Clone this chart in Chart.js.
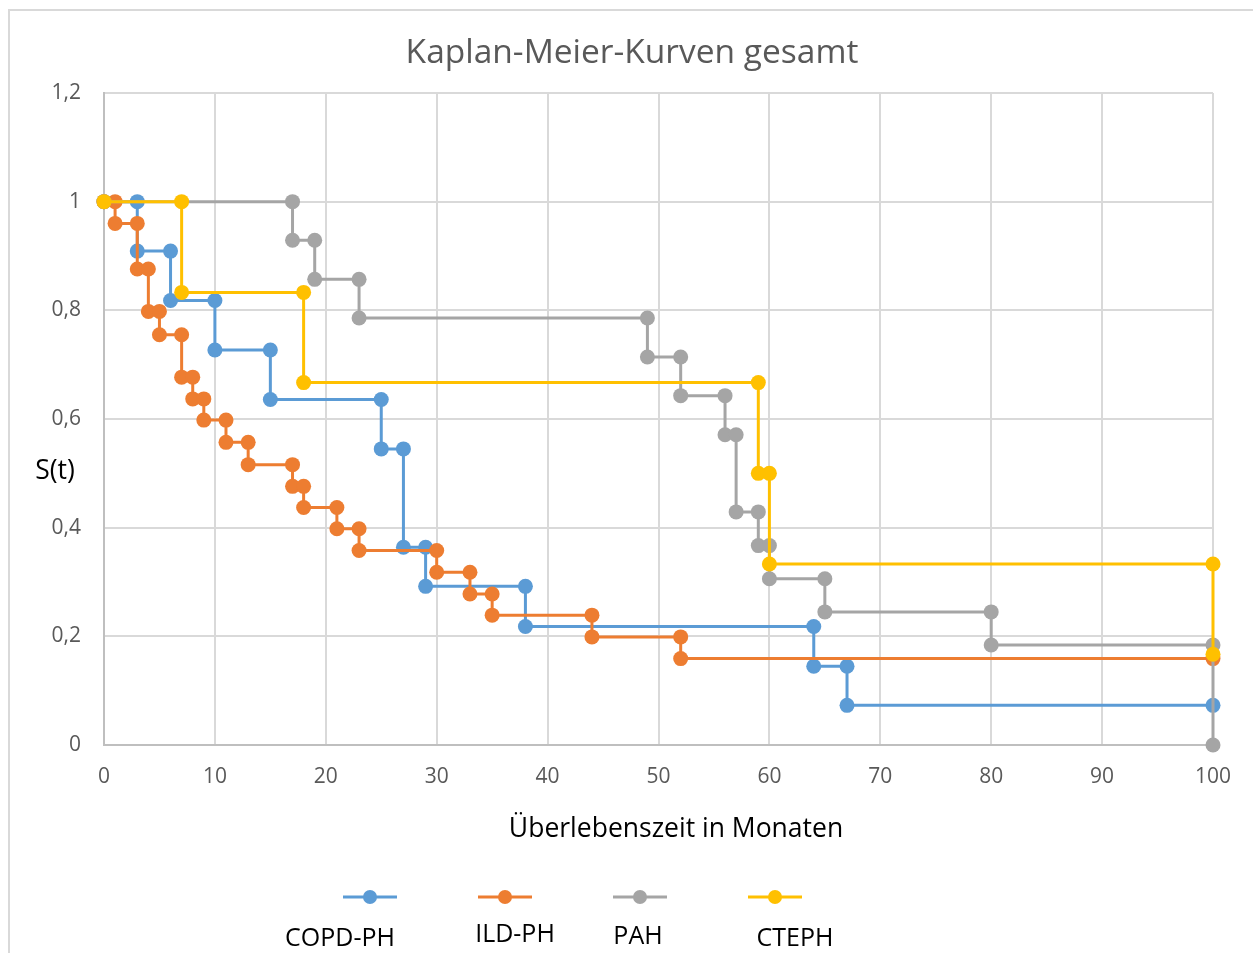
<!DOCTYPE html>
<html lang="de">
<head>
<meta charset="utf-8">
<title>Kaplan-Meier-Kurven gesamt</title>
<script src="https://cdn.jsdelivr.net/npm/chart.js@4/dist/chart.umd.min.js"></script>
<style>
  html, body { margin: 0; padding: 0; background: #ffffff; }
  #wrap { position: relative; width: 1253px; height: 953px; }
  canvas { display: block; }
</style>
</head>
<body>
<div id="wrap"><canvas id="km" width="1253" height="953"></canvas></div>
<script>
// Survival curves: corner points of each Kaplan-Meier step (month, S(t))
const copdTime = [0, 3, 3, 6, 6, 10, 10, 15, 15, 25, 25, 27, 27, 29, 29, 38, 38, 64, 64, 67, 67, 100];
const copdSurv = [1, 1, 0.909, 0.909, 0.818, 0.818, 0.727, 0.727, 0.636, 0.636, 0.545, 0.545, 0.364, 0.364, 0.292, 0.292, 0.218, 0.218, 0.145, 0.145, 0.073, 0.073];

const ildTime = [0, 1, 1, 3, 3, 4, 4, 5, 5, 7, 7, 8, 8, 9, 9, 11, 11, 13, 13, 17, 17, 18, 18, 21, 21, 23, 23, 30, 30, 33, 33, 35, 35, 44, 44, 52, 52, 100];
const ildSurv = [1, 1, 0.96, 0.96, 0.876, 0.876, 0.798, 0.798, 0.755, 0.755, 0.677, 0.677, 0.637, 0.637, 0.598, 0.598, 0.557, 0.557, 0.516, 0.516, 0.476, 0.476, 0.437, 0.437, 0.398, 0.398, 0.358, 0.358, 0.318, 0.318, 0.278, 0.278, 0.239, 0.239, 0.199, 0.199, 0.159, 0.159];

const pahTime = [0, 17, 17, 19, 19, 23, 23, 49, 49, 52, 52, 56, 56, 57, 57, 59, 59, 60, 60, 65, 65, 80, 80, 100, 100];
const pahSurv = [1, 1, 0.929, 0.929, 0.857, 0.857, 0.786, 0.786, 0.714, 0.714, 0.643, 0.643, 0.571, 0.571, 0.429, 0.429, 0.367, 0.367, 0.306, 0.306, 0.245, 0.245, 0.184, 0.184, 0];

const ctephTime = [0, 7, 7, 18, 18, 59, 59, 60, 60, 100, 100];
const ctephSurv = [1, 1, 0.833, 0.833, 0.667, 0.667, 0.5, 0.5, 0.333, 0.333, 0.167];

const seriesNames = ['COPD-PH', 'ILD-PH', 'PAH', 'CTEPH'];
const seriesColors = ['#5B9BD5', '#ED7D31', '#A5A5A5', '#FFC000'];

const xTicks = [0, 10, 20, 30, 40, 50, 60, 70, 80, 90, 100];
const yTicks = [0, 0.2, 0.4, 0.6, 0.8, 1, 1.2];

const chartTitle = 'Kaplan-Meier-Kurven gesamt';
const xTitle = 'Überlebenszeit in Monaten';
const yTitle = 'S(t)';

const FONT = '"Open Sans", "Liberation Sans", sans-serif';

function toPoints(ts, ss) {
  return ts.map((t, i) => ({ x: t, y: ss[i] }));
}

function deNumber(v) {
  return String(Math.round(v * 10) / 10).replace('.', ',');
}

const curves = [
  [copdTime, copdSurv],
  [ildTime, ildSurv],
  [pahTime, pahSurv],
  [ctephTime, ctephSurv]
];

// later series are painted on top, so the drawing order runs backwards
const datasets = curves.map(([ts, ss], i) => ({
  label: seriesNames[i],
  data: toPoints(ts, ss),
  showLine: true,
  clip: false,
  borderColor: seriesColors[i],
  backgroundColor: seriesColors[i],
  borderWidth: 3,
  pointRadius: 7.5,
  pointHoverRadius: 7.5,
  pointBorderWidth: 0,
  tension: 0,
  order: curves.length - 1 - i
}));

// frame, titles and the legend row beneath the plot
const decorations = {
  id: 'decorations',
  beforeDraw(chart) {
    const ctx = chart.ctx;
    ctx.save();
    ctx.fillStyle = '#ffffff';
    ctx.fillRect(0, 0, chart.width, chart.height);
    ctx.strokeStyle = '#d9d9d9';
    ctx.lineWidth = 2;
    ctx.beginPath();
    ctx.moveTo(9, chart.height + 2);
    ctx.lineTo(9, 10);
    ctx.lineTo(chart.width + 2, 10);
    ctx.stroke();
    ctx.restore();
  },
  afterDraw(chart) {
    const ctx = chart.ctx;
    ctx.save();
    ctx.textAlign = 'center';
    ctx.textBaseline = 'middle';

    ctx.fillStyle = '#595959';
    ctx.font = '33.5px ' + FONT;
    ctx.fillText(chartTitle, 632, 53);

    ctx.fillStyle = '#000000';
    ctx.font = '26.5px ' + FONT;
    ctx.fillText(xTitle, 676, 829);
    ctx.fillText(yTitle, 55, 471);

    const symbolX = [370, 505, 640, 775];
    const labelX = [340, 515, 638, 795];
    const labelY = [939, 935, 937, 939];
    seriesNames.forEach((name, i) => {
      const cx = symbolX[i];
      ctx.strokeStyle = seriesColors[i];
      ctx.lineWidth = 3;
      ctx.beginPath();
      ctx.moveTo(cx - 27, 897);
      ctx.lineTo(cx + 27, 897);
      ctx.stroke();
      ctx.fillStyle = seriesColors[i];
      ctx.beginPath();
      ctx.arc(cx, 897, 7, 0, Math.PI * 2);
      ctx.fill();
      ctx.fillStyle = '#000000';
      ctx.font = '25px ' + FONT;
      ctx.fillText(name, labelX[i], labelY[i]);
    });
    ctx.restore();
  }
};

new Chart(document.getElementById('km'), {
  type: 'scatter',
  data: { datasets },
  options: {
    responsive: false,
    animation: false,
    devicePixelRatio: 1,
    layout: { padding: { left: 0, right: 40, top: 93, bottom: 0 } },
    plugins: {
      legend: { display: false },
      title: { display: false },
      tooltip: { enabled: false }
    },
    scales: {
      x: {
        type: 'linear',
        min: 0,
        max: 100,
        afterFit(scale) { scale.height = 208; },
        afterBuildTicks(scale) { scale.ticks = xTicks.map(v => ({ value: v })); },
        grid: { color: '#d9d9d9', lineWidth: 2, drawTicks: false },
        border: { color: '#bfbfbf', width: 2 },
        ticks: {
          padding: 19,
          color: '#595959',
          font: { family: FONT, size: 21 },
          maxRotation: 0,
          callback: v => deNumber(v)
        }
      },
      y: {
        type: 'linear',
        min: 0,
        max: 1.2,
        afterFit(scale) { scale.width = 104; },
        afterBuildTicks(scale) { scale.ticks = yTicks.map(v => ({ value: v })); },
        grid: { color: '#d9d9d9', lineWidth: 2, drawTicks: false },
        border: { color: '#bfbfbf', width: 2 },
        ticks: {
          padding: 23,
          color: '#595959',
          font: { family: FONT, size: 21 },
          callback: v => deNumber(v)
        }
      }
    }
  },
  plugins: [decorations]
});
</script>
</body>
</html>
